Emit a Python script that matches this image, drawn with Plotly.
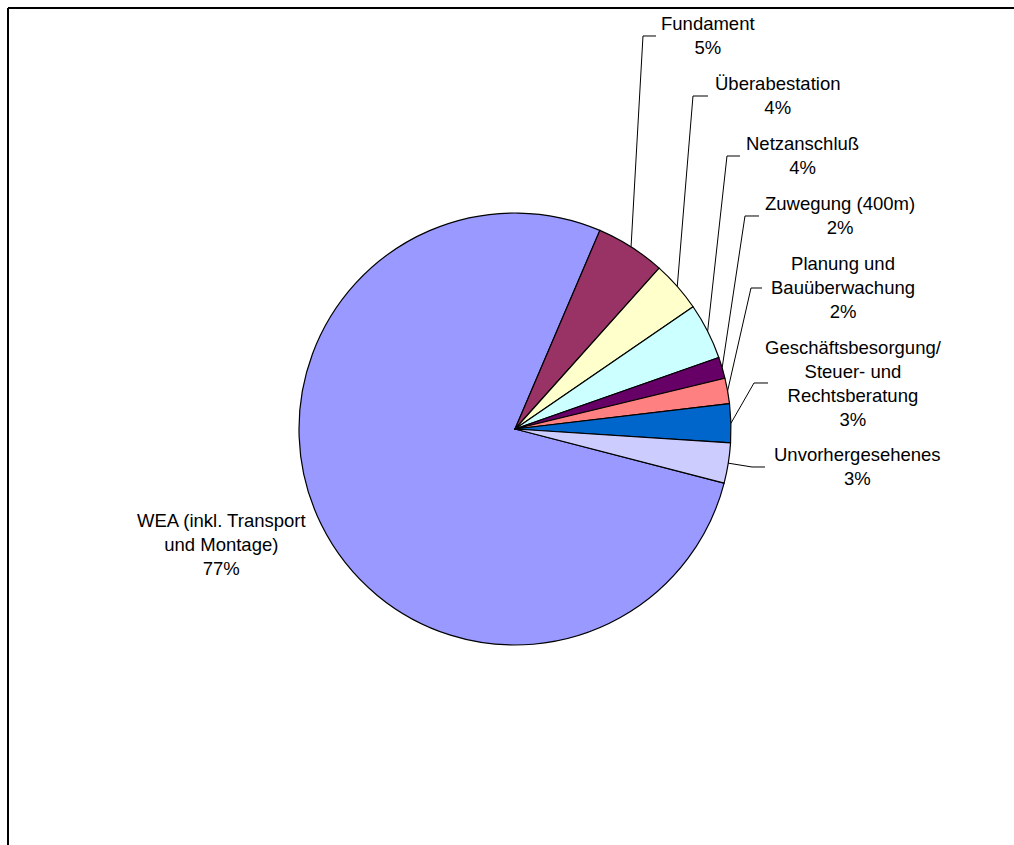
import math
import plotly.graph_objects as go

# Kostenaufteilung (Anteile in %)
categories = [
    "WEA (inkl. Transport\nund Montage)",
    "Fundament",
    "Überabestation",
    "Netzanschluß",
    "Zuwegung (400m)",
    "Planung und\nBauüberwachung",
    "Geschäftsbesorgung/\nSteuer- und\nRechtsberatung",
    "Unvorhergesehenes",
]
shares = [77.4, 5.2, 3.8, 4.2, 1.6, 1.9, 2.9, 3.0]
colors = ["#9999FF", "#993366", "#FFFFCC", "#CCFFFF",
          "#660066", "#FF8080", "#0066CC", "#CCCCFF"]

W, H = 1014, 845
CX, CY, R = 515, 429, 216      # pie centre and radius in pixels
ROTATION = 104.5               # start angle of first slice, clockwise from 12 o'clock

# label block centre (px) and leader elbow / end points (px); None = no leader
label_pos = [(221, 544), (708, 36), (777, 95), (802, 155),
             (840, 216), (843, 287), (853, 384), (857, 467)]
leader_pts = [None,
              [(643, 36), (656, 36)],
              [(693, 96), (708, 96)],
              [(727, 156), (740, 156)],
              [(745, 216), (759, 216)],
              [(751, 288), (762, 288)],
              [(754, 383), (768, 383)],
              [(752, 467), (765, 467)]]


def px(x, y):
    return x / W, 1 - y / H


fig = go.Figure()
fig.add_trace(go.Pie(
    labels=[c.replace("\n", " ") for c in categories],
    values=shares,
    sort=False,
    direction="clockwise",
    rotation=ROTATION,
    textinfo="none",
    marker=dict(colors=colors, line=dict(color="#000000", width=1.2)),
    domain=dict(x=[(CX - R) / W, (CX + R) / W],
                y=[1 - (CY + R) / H, 1 - (CY - R) / H]),
    showlegend=False,
    hoverinfo="label+percent",
))

total = sum(shares)
shapes = []
annotations = []
cum = 0.0
font = dict(family="Liberation Sans, Arial, sans-serif", size=18.5, color="#000000")
for cat, v, pos, lead in zip(categories, shares, label_pos, leader_pts):
    mid = ROTATION + (cum + v / 2) / total * 360.0
    cum += v
    pct = round(v / total * 100)
    text = cat.replace("\n", "<br>") + f"<br>{pct}%"
    lx, ly = px(*pos)
    annotations.append(dict(x=lx, y=ly, xref="paper", yref="paper", text=text,
                            showarrow=False, xanchor="center", yanchor="middle",
                            align="center", font=font))
    if lead is not None:
        a = math.radians(mid)
        sx, sy = CX + R * math.sin(a), CY - R * math.cos(a)
        pts = [(sx, sy)] + lead
        path = "M " + " L ".join(f"{px(x, y)[0]:.5f},{px(x, y)[1]:.5f}" for x, y in pts)
        shapes.append(dict(type="path", path=path, xref="paper", yref="paper",
                           line=dict(color="#000000", width=1)))

# chart frame (top and left edges visible)
shapes.append(dict(type="line", xref="paper", yref="paper",
                   x0=px(8, 8)[0], y0=px(8, 8)[1], x1=1.0, y1=px(8, 8)[1],
                   line=dict(color="#000000", width=2)))
shapes.append(dict(type="line", xref="paper", yref="paper",
                   x0=px(8, 8)[0], y0=px(8, 8)[1], x1=px(8, 8)[0], y1=0.0,
                   line=dict(color="#000000", width=2)))

fig.update_layout(
    width=W, height=H,
    margin=dict(l=0, r=0, t=0, b=0),
    paper_bgcolor="#FFFFFF",
    plot_bgcolor="#FFFFFF",
    shapes=shapes,
    annotations=annotations,
)

fig.write_html("out.html")
